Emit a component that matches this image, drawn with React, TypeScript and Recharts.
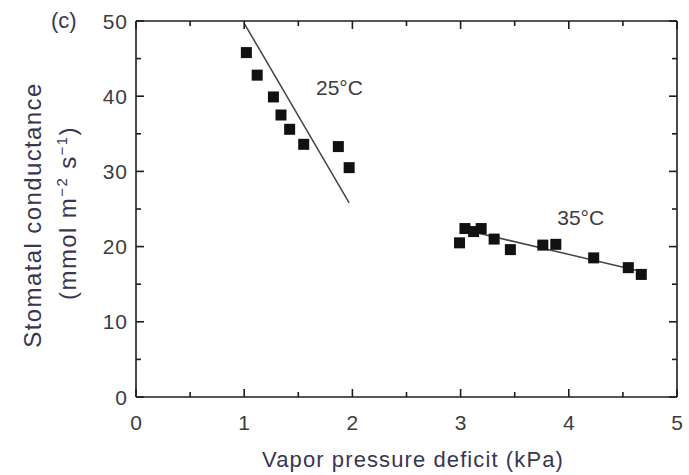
import React from 'react';
import { ComposedChart, Scatter, XAxis, YAxis, ReferenceDot, ReferenceLine } from 'recharts';

const vpd25 = [1.02, 1.12, 1.27, 1.34, 1.42, 1.55, 1.87, 1.97];
const gs25 = [45.8, 42.8, 39.9, 37.5, 35.6, 33.6, 33.3, 30.5];
const vpd35 = [2.99, 3.04, 3.12, 3.19, 3.31, 3.46, 3.76, 3.88, 4.23, 4.55, 4.67];
const gs35 = [20.5, 22.4, 22.0, 22.4, 21.0, 19.6, 20.2, 20.3, 18.5, 17.2, 16.3];
const fitVpd25 = [1.0, 1.97];
const fitGs25 = [49.7, 25.8];
const fitVpd35 = [3.1, 4.7];
const fitGs35 = [22.0, 16.6];
const xTicks = [0, 0.5, 1, 1.5, 2, 2.5, 3, 3.5, 4, 4.5, 5];
const yTicks = [0, 5, 10, 15, 20, 25, 30, 35, 40, 45, 50];

const pts = (xs: number[], ys: number[]) => xs.map((x, i) => ({ x, y: ys[i] }));
const data25 = pts(vpd25, gs25);
const data35 = pts(vpd35, gs35);
const fit25 = pts(fitVpd25, fitGs25);
const fit35 = pts(fitVpd35, fitGs35);

const FONT = '"Liberation Sans", Arial, sans-serif';
const AXIS = '#1e1e1e';
const TICKTXT = '#3c3c3c';
const LABEL = '#3a3550';
const MAJ = 8;
const MIN = 5;
const PLOT_TOP = 21;
const PLOT_RIGHT = 677;

const isMajor = (v: number) => Math.abs(v - Math.round(v)) < 1e-6;

const BottomTick = (p: any) => {
  const v = p.payload.value;
  const maj = isMajor(v);
  const len = maj ? MAJ : MIN;
  return (
    <g>
      <line x1={p.x} y1={p.y} x2={p.x} y2={p.y - len} stroke={AXIS} strokeWidth={1.6} />
      <line x1={p.x} y1={PLOT_TOP} x2={p.x} y2={PLOT_TOP + len} stroke={AXIS} strokeWidth={1.6} />
      {maj && (
        <text x={p.x} y={p.y + 33} textAnchor="middle" fontSize={21} fontFamily={FONT} fill={TICKTXT}>
          {v}
        </text>
      )}
    </g>
  );
};

const LeftTick = (p: any) => {
  const v = p.payload.value;
  const maj = v % 10 === 0;
  const len = maj ? MAJ : MIN;
  return (
    <g>
      <line x1={p.x} y1={p.y} x2={p.x + len} y2={p.y} stroke={AXIS} strokeWidth={1.6} />
      <line x1={PLOT_RIGHT} y1={p.y} x2={PLOT_RIGHT - len} y2={p.y} stroke={AXIS} strokeWidth={1.6} />
      {maj && (
        <text x={p.x - 8} y={p.y + 7.5} textAnchor="end" fontSize={21} fontFamily={FONT} fill={TICKTXT} letterSpacing={1}>
          {v}
        </text>
      )}
    </g>
  );
};

const Square = (p: any) => {
  const s = 11;
  return <rect x={p.cx - s / 2} y={p.cy - s / 2} width={s} height={s} fill="#111" />;
};

const NoDot = () => <g />;

const YLabel = () => (
  <g fontFamily={FONT} fontSize={24} fill={LABEL} letterSpacing={1.4}>
    <text transform="translate(41,215) rotate(-90)" textAnchor="middle">
      Stomatal conductance
    </text>
    <text transform="translate(76,213) rotate(-90)" textAnchor="middle">
      (mmol m<tspan fontSize={15} dy={-9}>−2</tspan>
      <tspan dy={9}> s</tspan>
      <tspan fontSize={15} dy={-9}>−1</tspan>
      <tspan dy={9}>)</tspan>
    </text>
  </g>
);

const XLabel = () => (
  <text x={413} y={467} textAnchor="middle" fontFamily={FONT} fontSize={22} fill={LABEL} letterSpacing={1.1}>
    Vapor pressure deficit (kPa)
  </text>
);

export default function App() {
  return (
    <div style={{ position: 'absolute', left: 0, top: 0, width: 689, height: 475, background: '#fff' }}>
      <ComposedChart width={689} height={475} margin={{ top: 21, right: 12, left: 0, bottom: 0 }}>
        <XAxis
          xAxisId="b"
          type="number"
          dataKey="x"
          domain={[0, 5]}
          ticks={xTicks}
          interval={0}
          height={78}
          tickSize={0}
          tickMargin={0}
          tickLine={false}
          axisLine={{ stroke: AXIS, strokeWidth: 1.6 }}
          tick={<BottomTick />}
          label={<XLabel />}
        />
        <YAxis
          yAxisId="l"
          type="number"
          dataKey="y"
          domain={[0, 50]}
          ticks={yTicks}
          interval={0}
          width={136}
          tickSize={0}
          tickMargin={0}
          tickLine={false}
          axisLine={{ stroke: AXIS, strokeWidth: 1.6 }}
          tick={<LeftTick />}
          label={<YLabel />}
        />
        <ReferenceLine xAxisId="b" yAxisId="l" y={50} stroke={AXIS} strokeWidth={1.6} ifOverflow="visible" />
        <ReferenceLine xAxisId="b" yAxisId="l" x={5} stroke={AXIS} strokeWidth={1.6} ifOverflow="visible" />
        <Scatter xAxisId="b" yAxisId="l" data={fit25} line={{ stroke: '#444', strokeWidth: 1.5 }} shape={<NoDot />} isAnimationActive={false} />
        <Scatter xAxisId="b" yAxisId="l" data={fit35} line={{ stroke: '#444', strokeWidth: 1.5 }} shape={<NoDot />} isAnimationActive={false} />
        <Scatter xAxisId="b" yAxisId="l" data={data25} shape={<Square />} isAnimationActive={false} />
        <Scatter xAxisId="b" yAxisId="l" data={data35} shape={<Square />} isAnimationActive={false} />
        <ReferenceDot
          xAxisId="b"
          yAxisId="l"
          x={1.88}
          y={41.2}
          r={0}
          fill="none"
          stroke="none"
          label={{ value: '25°C', position: 'center', fontSize: 21, fontFamily: FONT, fill: TICKTXT }}
        />
        <ReferenceDot
          xAxisId="b"
          yAxisId="l"
          x={4.11}
          y={23.9}
          r={0}
          fill="none"
          stroke="none"
          label={{ value: '35°C', position: 'center', fontSize: 21, fontFamily: FONT, fill: TICKTXT }}
        />
      </ComposedChart>
      <div
        style={{
          position: 'absolute',
          left: 51,
          top: 8,
          fontFamily: FONT,
          fontSize: 22,
          color: LABEL,
          lineHeight: '26px',
        }}
      >
        (c)
      </div>
    </div>
  );
}
